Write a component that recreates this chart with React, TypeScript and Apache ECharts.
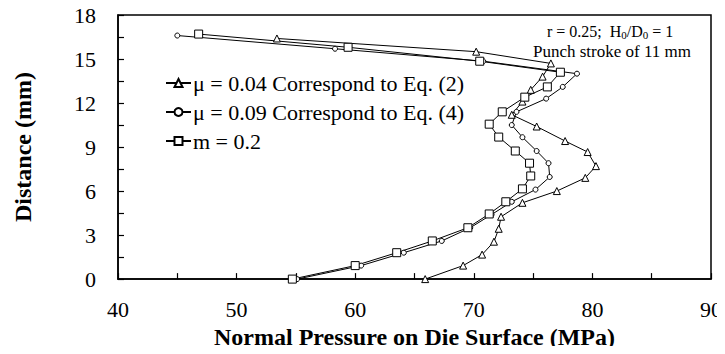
import React, { useEffect, useRef } from "react";
import * as echarts from "echarts";

const xTicks = [40, 50, 60, 70, 80, 90];
const yTicks = [0, 3, 6, 9, 12, 15, 18];

const seriesNames = [
  "μ = 0.04 Correspond to Eq. (2)",
  "μ = 0.09 Correspond to Eq. (4)",
  "m = 0.2",
];

// μ = 0.04 (triangles): [pressure MPa, distance mm]
const mu004X = [65.9, 69.1, 70.7, 71.7, 72.1, 72.3, 74.1, 77.0, 79.4, 80.3, 79.6, 77.7, 75.3, 73.2, 74.1, 74.8, 75.8, 76.5, 70.2, 53.4];
const mu004Y = [0, 0.92, 1.67, 2.55, 3.43, 4.25, 5.2, 6.0, 6.9, 7.7, 8.66, 9.41, 10.4, 11.2, 12.1, 12.9, 13.8, 14.7, 15.5, 16.4];

// μ = 0.09 (circles)
const mu009X = [55.1, 60.5, 64.1, 67.3, 69.7, 71.5, 73.2, 75.2, 76.4, 76.3, 75.3, 74.1, 73.2, 73.6, 76.1, 77.5, 78.7, 70.8, 58.3, 45.0];
const mu009Y = [0, 0.92, 1.8, 2.6, 3.5, 4.4, 5.27, 6.1, 6.96, 7.9, 8.73, 9.67, 10.5, 11.4, 12.3, 13.1, 14.0, 14.85, 15.7, 16.6];

// m = 0.2 (squares)
const m02X = [54.7, 60.0, 63.5, 66.5, 69.5, 71.3, 72.7, 74.1, 74.8, 74.7, 73.5, 72.1, 71.3, 72.4, 74.3, 76.2, 77.3, 70.5, 59.4, 46.8];
const m02Y = [0, 0.92, 1.8, 2.6, 3.5, 4.44, 5.27, 6.15, 7.03, 7.9, 8.73, 9.68, 10.56, 11.4, 12.4, 13.1, 14.1, 14.85, 15.8, 16.7];

const FONT = "Liberation Serif";

function zip(xs: number[], ys: number[]) {
  return xs.map((x, i) => [x, ys[i]]);
}

export default function App() {
  const ref = useRef<HTMLDivElement>(null);
  useEffect(() => {
    if (!ref.current) return;
    const chart = echarts.init(ref.current, undefined, { renderer: "svg" });
    const mk = (name: string, data: number[][], symbol: string, size: number) => ({
      name,
      type: "line",
      data,
      symbol,
      symbolSize: size,
      showAllSymbol: true,
      lineStyle: { color: "#000", width: 1 },
      itemStyle: { color: "#fff", borderColor: "#000", borderWidth: 1 },
      emphasis: { disabled: true },
    });
    chart.setOption({
      animation: false,
      backgroundColor: "#fff",
      textStyle: { fontFamily: FONT },
      grid: {
        left: 118,
        right: 13,
        top: 15,
        bottom: 73.5,
        show: true,
        borderColor: "#000",
        borderWidth: 1.5,
      },
      legend: {
        orient: "vertical",
        left: 160,
        top: 67,
        itemWidth: 25,
        itemHeight: 10,
        itemGap: 7,
        textStyle: { fontFamily: FONT, fontSize: 22, color: "#000", padding: [0, 0, 0, -3] },
        data: seriesNames,
      },
      xAxis: {
        type: "value",
        min: 40,
        max: 90,
        interval: 10,
        name: "Normal Pressure on Die Surface (MPa)",
        nameLocation: "middle",
        nameGap: 45,
        nameTextStyle: { fontFamily: FONT, fontSize: 24, fontWeight: "bold", color: "#000" },
        axisLine: { show: true, lineStyle: { color: "#000", width: 1.5 } },
        axisTick: { show: true, inside: true, length: 6, lineStyle: { color: "#000", width: 1.2 } },
        minorTick: { show: true, splitNumber: 2, length: 6, lineStyle: { color: "#000", width: 1.2 } },
        splitLine: { show: false },
        axisLabel: {
          fontFamily: FONT,
          fontSize: 22,
          color: "#000",
          margin: 19,
          formatter: (v: number) => (xTicks.includes(v) ? String(v) : ""),
        },
      },
      yAxis: {
        type: "value",
        min: 0,
        max: 18,
        interval: 3,
        name: "Distance (mm)",
        nameLocation: "middle",
        nameGap: 83,
        nameTextStyle: { fontFamily: FONT, fontSize: 24, fontWeight: "bold", color: "#000" },
        axisLine: { show: true, lineStyle: { color: "#000", width: 1.5 } },
        axisTick: { show: true, inside: true, length: 6, lineStyle: { color: "#000", width: 1.2 } },
        minorTick: { show: true, splitNumber: 2, length: 6, lineStyle: { color: "#000", width: 1.2 } },
        splitLine: { show: false },
        axisLabel: {
          fontFamily: FONT,
          fontSize: 22,
          color: "#000",
          margin: 22,
          formatter: (v: number) => (yTicks.includes(v) ? String(v) : ""),
        },
      },
      graphic: [
        {
          type: "text",
          left: 547,
          top: 23,
          style: {
            text: "r = 0.25;  H{sub|0}/D{sub|0} = 1",
            fontFamily: FONT,
            fontSize: 16,
            fill: "#000",
            rich: {
              sub: { fontFamily: FONT, fontSize: 11, verticalAlign: "bottom", padding: [8, 0, 0, 0] },
            },
          },
        },
        {
          type: "text",
          left: 533,
          top: 43,
          style: {
            text: "Punch stroke of 11 mm",
            fontFamily: FONT,
            fontSize: 17,
            fill: "#000",
          },
        },
      ],
      series: [
        mk(seriesNames[0], zip(mu004X, mu004Y), "triangle", 7),
        mk(seriesNames[1], zip(mu009X, mu009Y), "circle", 5),
        mk(seriesNames[2], zip(m02X, m02Y), "rect", 8),
      ],
    });
    return () => chart.dispose();
  }, []);
  return <div ref={ref} style={{ width: 725, height: 354, margin: -8 }} />;
}
